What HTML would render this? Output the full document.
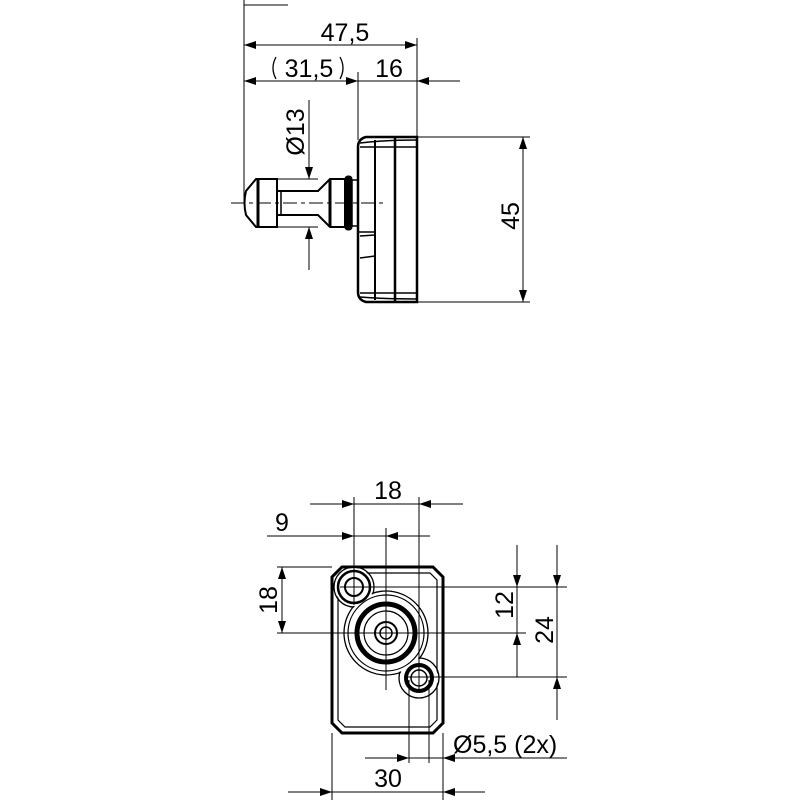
<!DOCTYPE html>
<html><head><meta charset="utf-8"><style>
html,body{margin:0;padding:0;background:#fff;}
svg{display:block;}
text{font-family:"Liberation Sans",sans-serif;font-size:25px;fill:#000;}
</style></head><body>
<svg width="800" height="800" viewBox="0 0 800 800" xmlns="http://www.w3.org/2000/svg">
<defs>
<marker id="a" viewBox="0 0 12 8" refX="12" refY="4" markerWidth="12" markerHeight="8" markerUnits="userSpaceOnUse" orient="auto"><path d="M0,0 L12,4 L0,8 Z" fill="#000"/></marker>
</defs>
<g stroke="#000" stroke-width="1" fill="none">
<!-- TOP VIEW -->
<line x1="244" y1="0" x2="244" y2="203"/>
<line x1="244" y1="5" x2="288" y2="5"/>
<line x1="417" y1="38" x2="417" y2="137"/>
<line x1="358" y1="72" x2="358" y2="140"/>
<line x1="256" y1="45" x2="244" y2="45" marker-end="url(#a)"/>
<line x1="256" y1="45" x2="405" y2="45"/>
<line x1="405" y1="45" x2="417" y2="45" marker-end="url(#a)"/>
<line x1="256" y1="81" x2="244" y2="81" marker-end="url(#a)"/>
<line x1="256" y1="81" x2="346" y2="81"/>
<line x1="346" y1="81" x2="358" y2="81" marker-end="url(#a)"/>
<line x1="358" y1="81" x2="417" y2="81"/>
<line x1="460" y1="81" x2="417" y2="81" marker-end="url(#a)"/>
<path d="M276,57 Q270,68 276,79" stroke-width="1.3"/>
<path d="M340,57 Q346,68 340,79" stroke-width="1.3"/>
<!-- body -->
<path d="M366,137 L417,137 L417,302 L366,302 Q358,300 358,292 L358,147 Q358,139 366,137 Z" stroke-width="2.5"/>
<line x1="375" y1="140" x2="375" y2="300" stroke-width="2"/>
<line x1="395" y1="137" x2="395" y2="302" stroke-width="2.5"/>
<path d="M360,143 Q385,140 417,140" stroke-width="1.5"/>
<line x1="360" y1="147" x2="417" y2="147" stroke-width="1.5"/>
<path d="M360,297 Q385,299 417,299" stroke-width="1.5"/>
<line x1="360" y1="293" x2="417" y2="293" stroke-width="1.5"/>
<path d="M358,232 L375,232 L375,258 M360,236 L375,235 M360,258 L375,256" stroke-width="1.5"/>
<line x1="417" y1="137" x2="530" y2="137"/>
<line x1="417" y1="302" x2="530" y2="302"/>
<line x1="523" y1="170" x2="523" y2="137" marker-end="url(#a)"/>
<line x1="523" y1="170" x2="523" y2="270"/>
<line x1="523" y1="270" x2="523" y2="302" marker-end="url(#a)"/>
<!-- pin -->
<path d="M256,179 L277,179 L277,227 L256,227 L246,215 Q243,203 246,191 Z" stroke-width="2"/>
<line x1="258" y1="180" x2="258" y2="226" stroke-width="3"/>
<path d="M277,191 L318,191 L330,179 L345,179 L345,227 L330,227 L318,215 L277,215" stroke-width="2"/>
<line x1="281" y1="191" x2="281" y2="215" stroke-width="1.5"/>
<line x1="330" y1="180" x2="330" y2="226" stroke-width="3"/>
<rect x="345" y="176" width="7" height="54" rx="3" fill="#000"/>
<rect x="352" y="180" width="6" height="46" stroke-width="1.5"/>
<line x1="231" y1="203" x2="385" y2="203" stroke-dasharray="14,4,4,4"/>
<line x1="309" y1="100" x2="309" y2="167"/>
<line x1="309" y1="167" x2="309" y2="179" marker-end="url(#a)"/>
<line x1="309" y1="239" x2="309" y2="227" marker-end="url(#a)"/>
<line x1="309" y1="239" x2="309" y2="270"/>
<line x1="276" y1="179" x2="318" y2="179"/>
<line x1="276" y1="227" x2="318" y2="227"/>

<!-- BOTTOM VIEW -->
<path d="M342,567 L433,567 L443,577 L443,723 L433,733 L342,733 L332,723 L332,577 Z" stroke-width="3"/>
<path d="M345,573 L430,573 L437,580 L437,720 L430,727 L345,727 L338,720 L338,580 Z" stroke-width="1.2"/>
<!-- lobed contour -->
<circle cx="354" cy="587" r="20" stroke-width="1.3"/>
<circle cx="419" cy="678" r="20" stroke-width="1.3"/>
<circle cx="386" cy="633" r="42" stroke-width="1.3"/>
<circle cx="354" cy="587" r="19" fill="#fff" stroke="none"/>
<circle cx="419" cy="678" r="19" fill="#fff" stroke="none"/>
<circle cx="386" cy="633" r="41" fill="#fff" stroke="none"/>
<circle cx="386" cy="633" r="38" stroke-width="1.2"/>
<circle cx="386" cy="633" r="29" stroke-width="5"/>
<circle cx="386" cy="633" r="22" stroke-width="1.2"/>
<circle cx="386" cy="633" r="11" stroke-width="2"/>
<circle cx="386" cy="633" r="6" stroke-width="1.5"/>
<circle cx="354" cy="587" r="16" stroke-width="2.5" fill="#fff"/>
<circle cx="354" cy="587" r="9" stroke-width="2"/>
<circle cx="419" cy="678" r="13" stroke-width="4" fill="#fff"/>
<circle cx="419" cy="678" r="8" stroke-width="1.5"/>
<!-- centre lines -->
<line x1="354" y1="497" x2="354" y2="605"/>
<line x1="419" y1="497" x2="419" y2="690"/>
<line x1="386" y1="528" x2="386" y2="690"/>
<line x1="277" y1="633" x2="526" y2="633"/>
<line x1="277" y1="567" x2="332" y2="567"/>
<line x1="340" y1="587" x2="567" y2="587"/>
<line x1="405" y1="677" x2="567" y2="677"/>
<line x1="409" y1="680" x2="409" y2="763"/>
<line x1="429" y1="680" x2="429" y2="763"/>
<line x1="332" y1="733" x2="332" y2="800"/>
<line x1="443" y1="733" x2="443" y2="800"/>
<!-- 18 top -->
<line x1="310" y1="504" x2="354" y2="504" marker-end="url(#a)"/>
<line x1="354" y1="504" x2="419" y2="504"/>
<line x1="463" y1="504" x2="419" y2="504" marker-end="url(#a)"/>
<!-- 9 -->
<line x1="267" y1="536" x2="354" y2="536" marker-end="url(#a)"/>
<line x1="354" y1="536" x2="386" y2="536"/>
<line x1="430" y1="536" x2="386" y2="536" marker-end="url(#a)"/>
<!-- 18 left -->
<line x1="282" y1="600" x2="282" y2="567" marker-end="url(#a)"/>
<line x1="282" y1="600" x2="282" y2="633" marker-end="url(#a)"/>
<!-- 12 -->
<line x1="517" y1="545" x2="517" y2="587" marker-end="url(#a)"/>
<line x1="517" y1="587" x2="517" y2="633"/>
<line x1="517" y1="677" x2="517" y2="633" marker-end="url(#a)"/>
<!-- 24 -->
<line x1="557" y1="545" x2="557" y2="587" marker-end="url(#a)"/>
<line x1="557" y1="587" x2="557" y2="677"/>
<line x1="557" y1="720" x2="557" y2="677" marker-end="url(#a)"/>
<!-- 5,5 -->
<line x1="365" y1="758" x2="409" y2="758" marker-end="url(#a)"/>
<line x1="409" y1="758" x2="443" y2="758"/>
<line x1="567" y1="758" x2="443" y2="758" marker-end="url(#a)"/>
<!-- 30 -->
<line x1="288" y1="792" x2="332" y2="792" marker-end="url(#a)"/>
<line x1="332" y1="792" x2="443" y2="792"/>
<line x1="485" y1="792" x2="443" y2="792" marker-end="url(#a)"/>
</g>
<g>
<text x="345" y="41" text-anchor="middle">47,5</text>
<text x="309" y="77" text-anchor="middle">31,5</text>
<text x="389" y="77" text-anchor="middle">16</text>
<text transform="translate(519,216) rotate(-90)" text-anchor="middle">45</text>
<text transform="translate(304,132) rotate(-90)" text-anchor="middle">Ø13</text>
<text x="388" y="499" text-anchor="middle">18</text>
<text x="282" y="531" text-anchor="middle">9</text>
<text transform="translate(277,600) rotate(-90)" text-anchor="middle">18</text>
<text transform="translate(513,605) rotate(-90)" text-anchor="middle">12</text>
<text transform="translate(553,630) rotate(-90)" text-anchor="middle">24</text>
<text x="453" y="753">Ø5,5 (2x)</text>
<text x="388" y="787" text-anchor="middle">30</text>
</g>
</svg>
</body></html>
